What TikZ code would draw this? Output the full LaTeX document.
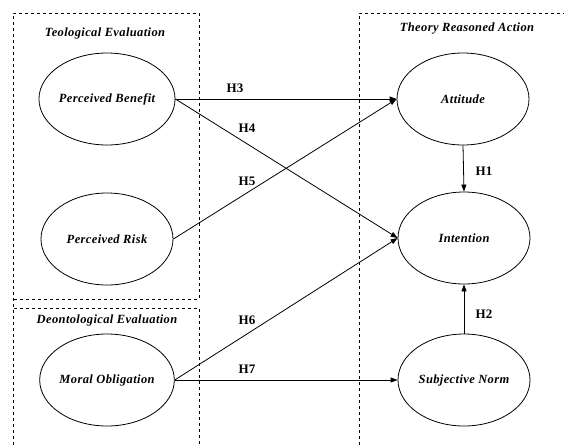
\documentclass[tikz,border=0pt]{standalone}
\usepackage{fontspec}
\setmainfont{Liberation Serif}
\newfontfamily\lblfont[LetterSpace=3]{Liberation Serif}
\usetikzlibrary{shapes.geometric,arrows.meta}
\begin{document}
\begin{tikzpicture}[x=1pt,y=-1pt,
  construct/.style={draw,ellipse,line width=0.8pt,minimum width=132pt,minimum height=92pt,inner sep=0pt,font=\lblfont\fontsize{12.5}{14}\selectfont\bfseries\itshape},
  boxtitle/.style={font=\lblfont\fontsize{12.5}{14}\selectfont\bfseries\itshape},
  hyp/.style={font=\fontsize{13}{15}\selectfont\bfseries},
  frame/.style={line width=0.8pt,dash pattern=on 3pt off 3pt},
  link/.style={line width=0.8pt,-{Triangle[length=7pt,width=5pt]}}]
\useasboundingbox (0,0) rectangle (564,445);
\fill[white] (0,0) rectangle (564,445);
% frames
\draw[frame] (13,445) -- (13,13) -- (199,13) -- (199,299) -- (13,299);
\draw[frame] (13,445) -- (13,308) -- (199,308) -- (199,445);
\draw[frame] (359,445) -- (359,13) -- (564,13);
\node[boxtitle] (t1) at (105,33) {Teological Evaluation};
\node[boxtitle] (t2) at (107,320) {Deontological Evaluation};
\node[boxtitle] (t3) at (467,29) {Theory Reasoned Action};
% constructs
\node[construct] (pb) at (107,99) {Perceived Benefit};
\node[construct] (pr) at (107,239) {Perceived Risk};
\node[construct] (mo) at (107,380) {Moral Obligation};
\node[construct] (at) at (463,99) {Attitude};
\node[construct] (in) at (464,238) {Intention};
\node[construct] (sn) at (464,380) {Subjective Norm};
% links
\draw[link] (pb.east) -- (at.west);
\draw[link] (pb.east) -- (in.west);
\draw[link] (pr.east) -- (at.west);
\draw[link] (mo.east) -- (in.west);
\draw[link] (mo.east) -- (sn.west);
\draw[link] (at.south) -- (in.north);
\draw[link] (sn.north) -- (in.south);
% labels
\node[hyp] (h1) at (484,171) {H1};
\node[hyp] (h2) at (484,314) {H2};
\node[hyp] (h3) at (235,88) {H3};
\node[hyp] (h4) at (247,128) {H4};
\node[hyp] (h5) at (247,181) {H5};
\node[hyp] (h6) at (247,320) {H6};
\node[hyp] (h7) at (247,369) {H7};
\end{tikzpicture}
\end{document}
